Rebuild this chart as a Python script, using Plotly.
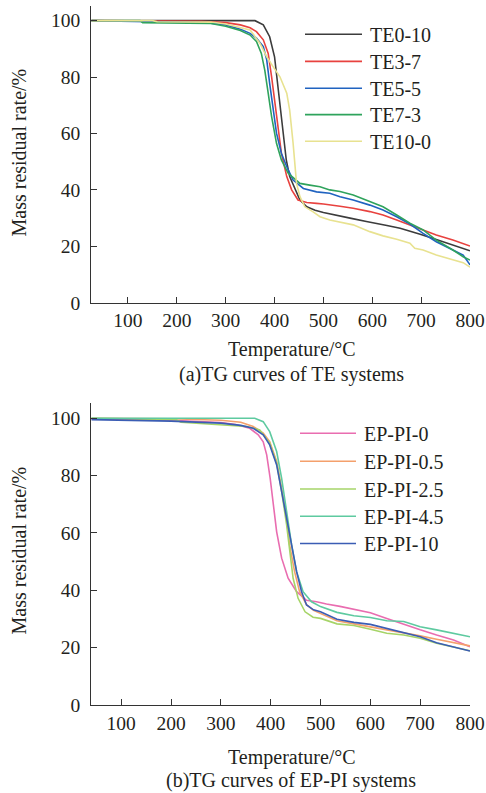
import plotly.graph_objects as go

# ---------------- data: (a) TE systems ----------------
te_names = ["TE0-10", "TE3-7", "TE5-5", "TE7-3", "TE10-0"]
te_colors = ["#3c3c3c", "#e8423f", "#2063c0", "#2fa35c", "#e8e290"]

te0_T = [25, 100, 200, 300, 360, 377, 390, 400, 407, 412, 418, 424, 431, 442, 452, 466, 483, 500, 520, 557, 588, 609, 630, 657, 677, 698, 731, 766, 800]
te0_Y = [100, 100, 100, 100, 100, 98.5, 94.3, 87.2, 76.6, 68.3, 58.9, 50.6, 44.7, 40, 36.4, 34, 32.8, 32.0, 31.2, 29.9, 28.8, 28.2, 27.4, 26.4, 25.4, 24.3, 22.4, 20.5, 18.4]

te3_T = [25, 150, 250, 300, 330, 350, 363, 377, 387, 394, 401, 407, 414, 425, 435, 448, 466, 486, 500, 534, 561, 595, 622, 650, 677, 704, 731, 765, 786, 800]
te3_Y = [100, 100, 99.8, 99.3, 98.5, 97.5, 96.1, 93.2, 88.4, 80.1, 70.7, 61.2, 53, 44.7, 40, 36.4, 35.5, 35.2, 35.0, 34.2, 33.5, 32.3, 31.1, 29.3, 27.6, 25.8, 24, 22.2, 21.1, 20.1]

te5_T = [25, 130, 260, 300, 330, 350, 363, 377, 384, 390, 397, 404, 414, 425, 438, 459, 486, 513, 534, 561, 595, 622, 650, 677, 704, 731, 765, 786, 800]
te5_Y = [100, 99.8, 99.3, 98.5, 97, 95.5, 93.8, 90.8, 86.1, 77.8, 68.3, 60.1, 53, 48.2, 43.5, 40.5, 39.3, 38.8, 37.6, 36.4, 34.6, 32.9, 30.5, 27.9, 24.6, 21.6, 18.7, 16.9, 13.4]

te7_T = [25, 125, 130, 270, 300, 330, 350, 363, 373, 380, 387, 394, 404, 414, 428, 452, 472, 493, 513, 534, 561, 595, 622, 650, 677, 704, 731, 765, 786, 800]
te7_Y = [100, 100, 99.3, 99, 98, 96.5, 94.9, 92.6, 88.4, 82.5, 74.3, 66, 56.5, 50.6, 45.9, 42.3, 41.7, 41.1, 40, 39.4, 38.2, 35.8, 34, 31.1, 28.2, 25.8, 22.2, 18.7, 16.3, 15.1]

te10_T = [25, 150, 160, 270, 300, 330, 350, 370, 384, 397, 411, 425, 431, 438, 442, 445, 452, 462, 479, 493, 513, 561, 595, 622, 650, 677, 687, 704, 731, 765, 786, 800]
te10_Y = [100, 100, 99.6, 99.5, 98.8, 97.7, 96.7, 92, 87.2, 83.7, 80.1, 74.3, 68.3, 56.5, 48.2, 42.3, 37.6, 34, 32.2, 30.5, 29.3, 27.6, 25.2, 23.7, 22.5, 21.1, 19.3, 18.7, 16.9, 15.1, 14.2, 12.6]

# ---------------- data: (b) EP-PI systems ----------------
ep_names = ["EP-PI-0", "EP-PI-0.5", "EP-PI-2.5", "EP-PI-4.5", "EP-PI-10"]
ep_colors = ["#e96db0", "#f4a06c", "#a6d468", "#5ecaa0", "#3b5db4"]

ep0_T = [40, 200, 300, 330, 358, 375, 385, 392, 399, 405, 412, 422, 435, 452, 472, 492, 512, 539, 567, 600, 633, 667, 700, 733, 767, 800]
ep0_Y = [99.7, 99.3, 98.5, 97.8, 96.5, 94.2, 91.8, 87.2, 79, 69.8, 60.4, 51.2, 44.2, 39.5, 36.5, 36.0, 35.2, 34.4, 33.4, 32.2, 30.2, 28.1, 26.2, 24.4, 22.7, 20.3]

ep05_T = [40, 200, 300, 340, 365, 385, 398, 412, 422, 432, 438, 448, 458, 472, 486, 500, 533, 567, 600, 633, 667, 700, 733, 767, 800]
ep05_Y = [100, 99.8, 99.3, 98.6, 97.1, 94.8, 91.8, 84.9, 75.6, 65.1, 55.8, 46.5, 39.5, 35, 33, 32.0, 29.4, 28.3, 27.3, 26.2, 25, 24.1, 22.9, 21.7, 20.6]

ep25_T = [40, 210, 220, 312, 352, 378, 398, 412, 422, 432, 438, 445, 455, 469, 485, 500, 533, 567, 600, 633, 667, 700, 733, 767, 800]
ep25_Y = [100, 99.5, 98.6, 97.7, 97.1, 95.9, 91.3, 84.3, 74.4, 62.8, 53.5, 44.2, 37.2, 32.5, 30.6, 30.2, 28.3, 27.7, 26.4, 25, 24.4, 23.3, 21.5, 20.3, 18.9]

ep45_T = [40, 200, 300, 368, 385, 398, 412, 422, 432, 442, 452, 465, 482, 500, 533, 567, 600, 633, 667, 700, 733, 767, 800]
ep45_Y = [100, 100, 100, 100, 98.8, 95.3, 88.4, 79, 67.4, 55.8, 46.5, 39.5, 36, 34.3, 32.3, 31.1, 30.5, 29.4, 29.1, 27.3, 26.2, 25, 23.8]

ep10_T = [40, 200, 300, 340, 365, 385, 398, 412, 422, 432, 442, 452, 462, 472, 486, 500, 533, 567, 600, 633, 667, 700, 733, 767, 800]
ep10_Y = [99.5, 99, 98.3, 97.5, 96.5, 94.2, 90.7, 83.7, 74.4, 65.1, 55.8, 46.5, 39.5, 34.9, 33.2, 32.5, 29.9, 28.8, 28.1, 26.7, 25.2, 23.8, 21.7, 20.3, 18.8]

x_ticks = [100, 200, 300, 400, 500, 600, 700, 800]
y_ticks = [0, 20, 40, 60, 80, 100]

W, H = 486, 793
FONT = "Liberation Serif, Times New Roman, serif"
TXT = "#231f20"

fig = go.Figure()

te_series = [(te0_T, te0_Y), (te3_T, te3_Y), (te5_T, te5_Y), (te7_T, te7_Y), (te10_T, te10_Y)]
ep_series = [(ep0_T, ep0_Y), (ep05_T, ep05_Y), (ep25_T, ep25_Y), (ep45_T, ep45_Y), (ep10_T, ep10_Y)]

for (t, y), n, c in zip(te_series, te_names, te_colors):
    fig.add_trace(go.Scatter(x=t, y=y, name=n, mode="lines",
                             line=dict(color=c, width=1.6), xaxis="x", yaxis="y",
                             showlegend=False))
for (t, y), n, c in zip(ep_series, ep_names, ep_colors):
    fig.add_trace(go.Scatter(x=t, y=y, name=n, mode="lines",
                             line=dict(color=c, width=1.6), xaxis="x2", yaxis="y2",
                             showlegend=False))

def px2x(px):
    return min(1.0, max(0.0, px / W))

def py2y(py):
    return min(1.0, max(0.0, 1 - py / H))

ax_common = dict(showline=True, linecolor="#333333", linewidth=1.3, ticks="inside",
                 ticklen=6, tickwidth=1.2, tickcolor="#333333", showgrid=False,
                 zeroline=False, mirror=False, automargin=False,
                 tickfont=dict(family=FONT, size=19.5, color=TXT))

fig.update_layout(
    width=W, height=H, margin=dict(l=0, r=0, t=0, b=0, pad=0, autoexpand=False),
    paper_bgcolor="white", plot_bgcolor="white", showlegend=False,
    xaxis=dict(domain=[px2x(91.3), px2x(470)], range=[25, 800], tickvals=x_ticks,
               anchor="y", ticklabelstandoff=0, **ax_common),
    yaxis=dict(domain=[py2y(302.7), py2y(6)], range=[0, 105.2], tickvals=y_ticks,
               anchor="x", ticklabelstandoff=6, **ax_common),
    xaxis2=dict(domain=[px2x(91.3), px2x(470)], range=[40, 800], tickvals=x_ticks,
                anchor="y2", ticklabelstandoff=0, **ax_common),
    yaxis2=dict(domain=[py2y(705), py2y(403.3)], range=[0, 105.2], tickvals=y_ticks,
                anchor="x2", ticklabelstandoff=6, **ax_common),
)

anns = []
shapes = []

def txt(text, px, py, size=20, angle=0, xanchor="center"):
    anns.append(dict(text=text, x=px2x(px), y=py2y(py), xref="paper", yref="paper",
                     showarrow=False, textangle=angle, xanchor=xanchor, yanchor="middle",
                     font=dict(family=FONT, size=size, color=TXT)))

txt("Mass residual rate/%", 18.5, 153, angle=-90)
txt("Temperature/°C", 291.5, 349)
txt("(a)TG curves of TE systems", 291, 374.5)
txt("Mass residual rate/%", 18.5, 551, angle=-90)
txt("Temperature/°C", 291.5, 757)
txt("(b)TG curves of EP-PI systems", 291, 780.5)

te_rows = [34.3, 61.4, 88.3, 114.6, 141.2]
for n, c, r in zip(te_names, te_colors, te_rows):
    shapes.append(dict(type="line", xref="paper", yref="paper",
                       x0=px2x(305), x1=px2x(362), y0=py2y(r), y1=py2y(r),
                       line=dict(color=c, width=1.6)))
    txt(n, 367.5, r + 0.5, xanchor="left")

ep_rows = [433.3, 461.2, 489, 516.3, 543.5]
for n, c, r in zip(ep_names, ep_colors, ep_rows):
    shapes.append(dict(type="line", xref="paper", yref="paper",
                       x0=px2x(300), x1=px2x(356), y0=py2y(r), y1=py2y(r),
                       line=dict(color=c, width=1.6)))
    txt(n, 361.5, r + 0.5, xanchor="left")

fig.update_layout(annotations=anns, shapes=shapes)

fig.write_html("out.html")
